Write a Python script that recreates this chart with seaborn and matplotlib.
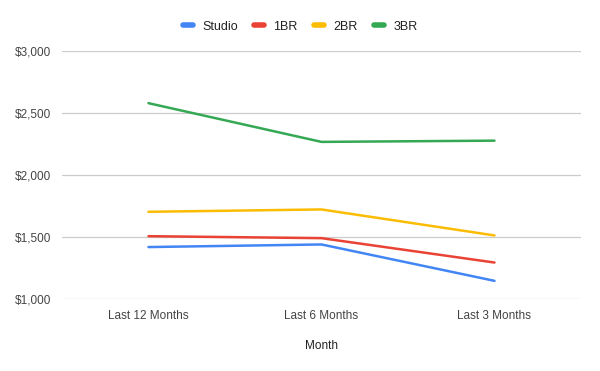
import pandas as pd
import matplotlib.pyplot as plt
import seaborn as sns
from matplotlib.ticker import FuncFormatter

months = ["Last 12 Months", "Last 6 Months", "Last 3 Months"]
studio = [1417, 1438, 1144]
br1 = [1505, 1489, 1292]
br2 = [1702, 1721, 1511]
br3 = [2580, 2267, 2277]

series = {"Studio": studio, "1BR": br1, "2BR": br2, "3BR": br3}
colors = {"Studio": "#4285F4", "1BR": "#EA4335", "2BR": "#FBBC04", "3BR": "#34A853"}

rows = []
for name, vals in series.items():
    for i, (m, v) in enumerate(zip(months, vals)):
        rows.append({"Month": m, "pos": i, "Type": name, "Rent": v})
df = pd.DataFrame(rows)

sns.set_style("white")
plt.rcParams["font.family"] = ["Liberation Sans", "DejaVu Sans"]

fig = plt.figure(figsize=(6, 3.71), dpi=100)
ax = fig.add_axes([0.1033, 0.195, 0.865, 0.667])

sns.lineplot(data=df, x="pos", y="Rent", hue="Type", palette=colors,
             linewidth=1.8, ax=ax, legend=False)

ax.set_xlim(-0.5, 2.5)
ax.set_ylim(1000, 3000)
ax.set_yticks([1000, 1500, 2000, 2500, 3000])
ax.yaxis.set_major_formatter(FuncFormatter(lambda v, p: f"${v:,.0f}"))
ax.set_xticks(range(len(months)))
ax.set_xticklabels(months)
ax.grid(axis="y", color="#cccccc", linewidth=0.9)
ax.set_axisbelow(True)
for s in ax.spines.values():
    s.set_visible(False)
ax.tick_params(axis="both", length=0, labelsize=8.5, colors="#444444")
ax.tick_params(axis="y", pad=8)
ax.tick_params(axis="x", pad=8)
ax.set_xlabel("Month", fontsize=8.5, color="#222222", labelpad=13)
ax.set_ylabel("")

handles = [plt.Line2D([], [], color=colors[n], linewidth=4, solid_capstyle="round") for n in series]
fig.legend(handles, list(series.keys()), loc="center", bbox_to_anchor=(0.5, 0.928),
           ncol=4, frameon=False, fontsize=9, handlelength=0.8, handletextpad=0.75,
           columnspacing=1.3, labelcolor="#222222")

fig.savefig("out.png", dpi=100)
